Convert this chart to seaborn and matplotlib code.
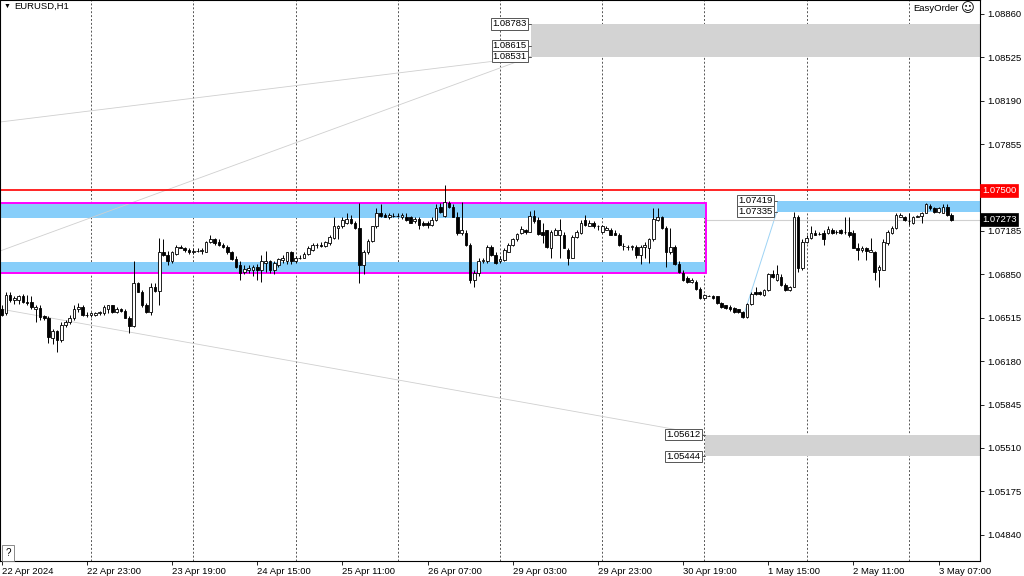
import matplotlib
matplotlib.use("Agg")
import matplotlib.pyplot as plt
import seaborn as sns
import numpy as np
from matplotlib.patches import Rectangle

# EURUSD H1, 22 Apr 2024 03:00 .. 3 May 2024 10:00 (one value per bar)
opens = [
    1.0658, 1.0655, 1.0669, 1.0665, 1.0665, 1.0668, 1.0664, 1.0664, 1.0658, 1.0659, 1.0653, 1.0651,
    1.0636, 1.0641, 1.0634, 1.0646, 1.0648, 1.0651, 1.0658, 1.0660, 1.0654, 1.0654, 1.0654, 1.0655,
    1.0655, 1.0658, 1.0661, 1.0656, 1.0658, 1.0657, 1.0651, 1.0645, 1.0678, 1.0671, 1.0661, 1.0656,
    1.0675, 1.0672, 1.0702, 1.0700, 1.0695, 1.0701, 1.0706, 1.0705, 1.0704, 1.0702, 1.0703, 1.0703,
    1.0702, 1.0710, 1.0712, 1.0710, 1.0708, 1.0706, 1.0702, 1.0697, 1.0692, 1.0687, 1.0688, 1.0688,
    1.0691, 1.0688, 1.0694, 1.0695, 1.0688, 1.0692, 1.0696, 1.0695, 1.0702, 1.0695, 1.0698, 1.0698,
    1.0701, 1.0704, 1.0708, 1.0708, 1.0707, 1.0709, 1.0713, 1.0721, 1.0722, 1.0725, 1.0728, 1.0725,
    1.0721, 1.0692, 1.0702, 1.0711, 1.0722, 1.0732, 1.0731, 1.0729, 1.0730, 1.0730, 1.0729, 1.0729,
    1.0729, 1.0726, 1.0728, 1.0725, 1.0725, 1.0723, 1.0727, 1.0737, 1.0730, 1.0740, 1.0737, 1.0729,
    1.0717, 1.0717, 1.0708, 1.0681, 1.0686, 1.0695, 1.0695, 1.0706, 1.0700, 1.0695, 1.0696, 1.0702,
    1.0708, 1.0712, 1.0717, 1.0719, 1.0718, 1.0730, 1.0727, 1.0718, 1.0719, 1.0705, 1.0715, 1.0715,
    1.0715, 1.0704, 1.0698, 1.0714, 1.0717, 1.0727, 1.0722, 1.0725, 1.0722, 1.0718, 1.0719, 1.0719,
    1.0717, 1.0715, 1.0707, 1.0706, 1.0706, 1.0706, 1.0700, 1.0706, 1.0705, 1.0712, 1.0727, 1.0729,
    1.0721, 1.0702, 1.0706, 1.0693, 1.0686, 1.0682, 1.0679, 1.0679, 1.0674, 1.0667, 1.0668, 1.0668,
    1.0668, 1.0663, 1.0661, 1.0660, 1.0659, 1.0658, 1.0656, 1.0652, 1.0662, 1.0671, 1.0671, 1.0669,
    1.0673, 1.0685, 1.0681, 1.0683, 1.0677, 1.0673, 1.0675, 1.0729, 1.0690, 1.0710, 1.0713, 1.0717,
    1.0716, 1.0717, 1.0717, 1.0719, 1.0718, 1.0719, 1.0718, 1.0718, 1.0717, 1.0705, 1.0704, 1.0705,
    1.0702, 1.0702, 1.0688, 1.0688, 1.0709, 1.0717, 1.0721, 1.0729, 1.0729, 1.0726, 1.0725, 1.0729,
    1.0730, 1.0732, 1.0738, 1.0736, 1.0733, 1.0732, 1.0737, 1.0731,
]
highs = [
    1.0661, 1.0671, 1.0671, 1.0668, 1.0669, 1.0670, 1.0669, 1.0668, 1.0661, 1.0661, 1.0654, 1.0653,
    1.0643, 1.0642, 1.0648, 1.0650, 1.0654, 1.0661, 1.0663, 1.0661, 1.0656, 1.0656, 1.0656, 1.0657,
    1.0661, 1.0661, 1.0661, 1.0660, 1.0659, 1.0658, 1.0653, 1.0695, 1.0679, 1.0673, 1.0663, 1.0678,
    1.0678, 1.0713, 1.0712, 1.0703, 1.0703, 1.0708, 1.0708, 1.0706, 1.0705, 1.0705, 1.0705, 1.0705,
    1.0711, 1.0715, 1.0713, 1.0712, 1.0709, 1.0708, 1.0703, 1.0699, 1.0695, 1.0692, 1.0692, 1.0692,
    1.0693, 1.0700, 1.0703, 1.0696, 1.0695, 1.0698, 1.0700, 1.0702, 1.0703, 1.0699, 1.0700, 1.0702,
    1.0707, 1.0709, 1.0709, 1.0710, 1.0711, 1.0715, 1.0729, 1.0723, 1.0729, 1.0732, 1.0731, 1.0726,
    1.0740, 1.0704, 1.0712, 1.0722, 1.0736, 1.0739, 1.0732, 1.0732, 1.0732, 1.0732, 1.0732, 1.0732,
    1.0730, 1.0729, 1.0729, 1.0726, 1.0726, 1.0729, 1.0739, 1.0740, 1.0754, 1.0742, 1.0739, 1.0733,
    1.0741, 1.0719, 1.0709, 1.0688, 1.0698, 1.0698, 1.0708, 1.0708, 1.0702, 1.0699, 1.0705, 1.0709,
    1.0713, 1.0717, 1.0722, 1.0720, 1.0734, 1.0735, 1.0729, 1.0725, 1.0719, 1.0719, 1.0721, 1.0728,
    1.0718, 1.0705, 1.0715, 1.0719, 1.0727, 1.0731, 1.0727, 1.0726, 1.0723, 1.0723, 1.0722, 1.0721,
    1.0719, 1.0717, 1.0709, 1.0708, 1.0708, 1.0708, 1.0708, 1.0710, 1.0713, 1.0736, 1.0736, 1.0730,
    1.0722, 1.0721, 1.0708, 1.0695, 1.0688, 1.0684, 1.0682, 1.0681, 1.0675, 1.0670, 1.0669, 1.0669,
    1.0668, 1.0664, 1.0661, 1.0661, 1.0660, 1.0658, 1.0657, 1.0663, 1.0671, 1.0675, 1.0672, 1.0674,
    1.0686, 1.0688, 1.0692, 1.0685, 1.0678, 1.0676, 1.0733, 1.0731, 1.0712, 1.0715, 1.0722, 1.0719,
    1.0718, 1.0719, 1.0722, 1.0721, 1.0719, 1.0720, 1.0729, 1.0729, 1.0719, 1.0709, 1.0707, 1.0706,
    1.0713, 1.0703, 1.0692, 1.0712, 1.0719, 1.0722, 1.0732, 1.0732, 1.0730, 1.0732, 1.0730, 1.0731,
    1.0733, 1.0740, 1.0739, 1.0737, 1.0737, 1.0739, 1.0739, 1.0732,
]
lows = [
    1.0653, 1.0654, 1.0664, 1.0662, 1.0662, 1.0663, 1.0661, 1.0658, 1.0648, 1.0650, 1.0650, 1.0632,
    1.0631, 1.0625, 1.0633, 1.0644, 1.0647, 1.0650, 1.0656, 1.0653, 1.0652, 1.0652, 1.0653, 1.0654,
    1.0654, 1.0655, 1.0655, 1.0655, 1.0656, 1.0651, 1.0640, 1.0644, 1.0671, 1.0660, 1.0655, 1.0654,
    1.0671, 1.0661, 1.0699, 1.0692, 1.0694, 1.0700, 1.0705, 1.0702, 1.0701, 1.0701, 1.0702, 1.0701,
    1.0702, 1.0709, 1.0708, 1.0707, 1.0705, 1.0701, 1.0696, 1.0690, 1.0681, 1.0685, 1.0686, 1.0684,
    1.0681, 1.0679, 1.0687, 1.0686, 1.0685, 1.0691, 1.0694, 1.0693, 1.0693, 1.0694, 1.0697, 1.0698,
    1.0700, 1.0703, 1.0705, 1.0706, 1.0706, 1.0708, 1.0712, 1.0712, 1.0721, 1.0724, 1.0724, 1.0720,
    1.0678, 1.0685, 1.0701, 1.0710, 1.0721, 1.0729, 1.0729, 1.0728, 1.0729, 1.0729, 1.0728, 1.0726,
    1.0725, 1.0725, 1.0720, 1.0722, 1.0721, 1.0722, 1.0726, 1.0732, 1.0729, 1.0736, 1.0729, 1.0715,
    1.0715, 1.0707, 1.0678, 1.0675, 1.0684, 1.0694, 1.0694, 1.0699, 1.0693, 1.0694, 1.0695, 1.0702,
    1.0707, 1.0711, 1.0716, 1.0716, 1.0718, 1.0725, 1.0715, 1.0709, 1.0705, 1.0698, 1.0715, 1.0698,
    1.0705, 1.0692, 1.0698, 1.0713, 1.0716, 1.0722, 1.0722, 1.0721, 1.0719, 1.0717, 1.0719, 1.0715,
    1.0715, 1.0707, 1.0704, 1.0704, 1.0704, 1.0698, 1.0693, 1.0698, 1.0694, 1.0711, 1.0726, 1.0720,
    1.0691, 1.0701, 1.0692, 1.0686, 1.0680, 1.0678, 1.0678, 1.0673, 1.0666, 1.0666, 1.0668, 1.0666,
    1.0662, 1.0659, 1.0658, 1.0657, 1.0655, 1.0655, 1.0651, 1.0651, 1.0661, 1.0669, 1.0669, 1.0668,
    1.0672, 1.0682, 1.0680, 1.0676, 1.0672, 1.0672, 1.0675, 1.0687, 1.0688, 1.0709, 1.0712, 1.0715,
    1.0715, 1.0708, 1.0716, 1.0716, 1.0716, 1.0716, 1.0716, 1.0714, 1.0705, 1.0696, 1.0702, 1.0696,
    1.0702, 1.0681, 1.0675, 1.0688, 1.0708, 1.0716, 1.0720, 1.0729, 1.0726, 1.0723, 1.0724, 1.0729,
    1.0725, 1.0732, 1.0735, 1.0732, 1.0732, 1.0732, 1.0730, 1.0726,
]
closes = [
    1.0654, 1.0669, 1.0665, 1.0667, 1.0668, 1.0664, 1.0663, 1.0660, 1.0660, 1.0652, 1.0651, 1.0637,
    1.0641, 1.0634, 1.0646, 1.0648, 1.0651, 1.0658, 1.0660, 1.0654, 1.0654, 1.0655, 1.0655, 1.0656,
    1.0660, 1.0661, 1.0656, 1.0658, 1.0657, 1.0651, 1.0645, 1.0678, 1.0671, 1.0661, 1.0656, 1.0675,
    1.0672, 1.0702, 1.0700, 1.0695, 1.0702, 1.0706, 1.0705, 1.0704, 1.0702, 1.0703, 1.0703, 1.0704,
    1.0710, 1.0712, 1.0709, 1.0708, 1.0706, 1.0702, 1.0697, 1.0691, 1.0686, 1.0689, 1.0690, 1.0691,
    1.0688, 1.0695, 1.0695, 1.0688, 1.0694, 1.0697, 1.0698, 1.0702, 1.0695, 1.0698, 1.0698, 1.0701,
    1.0705, 1.0708, 1.0708, 1.0707, 1.0710, 1.0714, 1.0722, 1.0722, 1.0727, 1.0728, 1.0725, 1.0721,
    1.0692, 1.0702, 1.0711, 1.0722, 1.0732, 1.0730, 1.0729, 1.0731, 1.0730, 1.0730, 1.0731, 1.0727,
    1.0725, 1.0728, 1.0723, 1.0723, 1.0723, 1.0727, 1.0736, 1.0733, 1.0741, 1.0737, 1.0729, 1.0717,
    1.0719, 1.0708, 1.0681, 1.0686, 1.0695, 1.0696, 1.0706, 1.0700, 1.0694, 1.0697, 1.0704, 1.0708,
    1.0712, 1.0716, 1.0720, 1.0718, 1.0730, 1.0726, 1.0716, 1.0715, 1.0706, 1.0718, 1.0719, 1.0719,
    1.0705, 1.0698, 1.0714, 1.0718, 1.0725, 1.0723, 1.0725, 1.0722, 1.0722, 1.0722, 1.0721, 1.0715,
    1.0715, 1.0708, 1.0707, 1.0706, 1.0707, 1.0700, 1.0706, 1.0708, 1.0712, 1.0728, 1.0729, 1.0721,
    1.0702, 1.0706, 1.0693, 1.0687, 1.0681, 1.0679, 1.0681, 1.0674, 1.0667, 1.0669, 1.0668, 1.0667,
    1.0663, 1.0660, 1.0659, 1.0658, 1.0656, 1.0656, 1.0652, 1.0662, 1.0670, 1.0670, 1.0670, 1.0673,
    1.0685, 1.0683, 1.0685, 1.0677, 1.0673, 1.0675, 1.0729, 1.0690, 1.0710, 1.0713, 1.0717, 1.0715,
    1.0716, 1.0712, 1.0720, 1.0717, 1.0718, 1.0717, 1.0718, 1.0715, 1.0705, 1.0704, 1.0705, 1.0703,
    1.0704, 1.0687, 1.0691, 1.0710, 1.0718, 1.0721, 1.0731, 1.0731, 1.0727, 1.0726, 1.0729, 1.0730,
    1.0732, 1.0739, 1.0736, 1.0733, 1.0736, 1.0737, 1.0731, 1.07273,
]

time_labels = ["22 Apr 2024", "22 Apr 23:00", "23 Apr 19:00", "24 Apr 15:00", "25 Apr 11:00",
               "26 Apr 07:00", "29 Apr 03:00", "29 Apr 23:00", "30 Apr 19:00", "1 May 15:00",
               "2 May 11:00", "3 May 07:00"]
time_label_bars = [0, 20, 40, 60, 80, 100, 120, 140, 160, 180, 200, 220]
day_start_bars = [21, 45, 69, 93, 117, 141, 165, 189, 213]
price_ticks = [1.04840, 1.05175, 1.05510, 1.05845, 1.06180, 1.06515, 1.06850,
               1.07185, 1.07520, 1.07855, 1.08190, 1.08525, 1.08860]

red_level = 1.07500
bid_price = 1.07273

# zones: start bar, low price, high price
upper_zone = (124.3, 1.08531, 1.08783)
upper_mid = 1.08615
lower_zone = (165.1, 1.05444, 1.05612)
blue_zone = (182.0, 1.07335, 1.07419)
# consolidation box (end bar, bands)
box_end = 165.3
box_top_band = (1.07285, 1.07400)
box_bottom_band = (1.06858, 1.06945)
# thin trend lines: (bar0, price0, bar1, price1)
trend_lines = [(-0.4, 1.08026, 124.3, 1.08531),
               (-0.4, 1.07030, 124.3, 1.08531),
               (-0.4, 1.06583, 165.1, 1.05612)]
blue_line = (174, 1.0651, 182.0, 1.07335)

XMIN, XMAX = -0.38, 229.7
YMIN, YMAX = 1.04637, 1.08968


def draw_candles(ax):
    o = np.array(opens)
    h = np.array(highs)
    l = np.array(lows)
    c = np.array(closes)
    x = np.arange(len(c))
    up = c >= o
    ax.vlines(x, l, h, color='black', lw=0.7, zorder=3)
    ax.bar(x, np.abs(c - o), bottom=np.minimum(o, c), width=0.62,
           color=np.where(up, 'white', 'black'), edgecolor='black', linewidth=0.6, zorder=4)


def price_box(ax, x, y, txt):
    ax.text(x, y, txt, ha='right', va='center', fontsize=6.8, color='black', zorder=6,
            bbox=dict(boxstyle='square,pad=0.12', fc='white', ec='#555555', lw=0.7))


sns.set_theme(style="white")
plt.rcParams['font.family'] = ['Liberation Sans', 'DejaVu Sans']

fig = plt.figure(figsize=(10.24, 5.76), dpi=100)
ax = fig.add_axes([0, 15 / 576, 980 / 1024, 561 / 576])
ax.set_facecolor('white')

# day separators
for b in day_start_bars:
    ax.axvline(b, color='#555555', lw=0.7, ls=(0, (2, 2)), zorder=0.5)

# consolidation box
x0 = XMIN - 5
ax.fill_between([x0, box_end], *box_top_band, color='#87CEFA', lw=0, zorder=1)
ax.fill_between([x0, box_end], *box_bottom_band, color='#87CEFA', lw=0, zorder=1)
ax.add_patch(Rectangle((x0, box_bottom_band[0]), box_end - x0, box_top_band[1] - box_bottom_band[0],
                       fill=False, ec='#FF00FF', lw=1.4, zorder=2))

# grey zones and blue zone to the right edge
for zone, col in [(upper_zone, '#D3D3D3'), (lower_zone, '#D3D3D3'), (blue_zone, '#87CEFA')]:
    ax.fill_between([zone[0], XMAX + 5], zone[1], zone[2], color=col, lw=0, zorder=1)

for x_a, p_a, x_b, p_b in trend_lines:
    ax.plot([x_a, x_b], [p_a, p_b], color='#CFCFCF', lw=0.6, zorder=1.5)
ax.plot([blue_line[0], blue_line[2]], [blue_line[1], blue_line[3]], color='#9DD3F5', lw=0.7, zorder=1.5)

# levels
ax.axhline(red_level, color='#FF0000', lw=1.2, zorder=2)
ax.plot([165, XMAX + 5], [bid_price, bid_price], color='#D0D0D0', lw=0.8, zorder=1.5)

draw_candles(ax)

# labels of the zones
for zone in [upper_zone, lower_zone, blue_zone]:
    xs = zone[0] - 1.0
    for p in zone[1:]:
        ax.plot([xs, zone[0]], [p, p], color='#555555', lw=0.7, zorder=5)
        price_box(ax, xs, p, f"{p:.5f}")
ax.plot([upper_zone[0] - 1.0, upper_zone[0]], [upper_mid, upper_mid], color='#555555', lw=0.7, zorder=5)
price_box(ax, upper_zone[0] - 1.0, upper_mid, f"{upper_mid:.5f}")

ax.set_xlim(XMIN, XMAX)
ax.set_ylim(YMIN, YMAX)

# the scale label hidden under the red tag is left empty
ax.yaxis.tick_right()
ax.set_yticks(price_ticks)
ax.set_yticklabels(["" if abs(p - red_level) < 0.0005 else f"{p:.5f}" for p in price_ticks])
ax.tick_params(axis='y', length=3, width=0.6, pad=2, labelsize=6.8, colors='black', right=True, left=False)
ax.set_xticks(time_label_bars)
ax.set_xticklabels(time_labels)
ax.tick_params(axis='x', length=3, width=0.6, pad=1, labelsize=6.8, colors='black', bottom=True)
for lbl in ax.get_xticklabels():
    lbl.set_ha('left')

for sp in ax.spines.values():
    sp.set_color('black')
    sp.set_linewidth(0.8)

# price tags on the axis
tr = ax.get_yaxis_transform()
ax.text(1.002, red_level, f"{red_level:.5f}", transform=tr, ha='left', va='center', fontsize=6.8,
        color='white', clip_on=False, zorder=10,
        bbox=dict(boxstyle='square,pad=0.2', fc='#FF0000', ec='#FF0000', lw=0.5))
ax.text(1.002, bid_price, f"{bid_price:.5f}", transform=tr, ha='left', va='center', fontsize=6.8,
        color='white', clip_on=False, zorder=10,
        bbox=dict(boxstyle='square,pad=0.2', fc='black', ec='black', lw=0.5))

ax.text(0.004, 0.988, "\u25BC", transform=ax.transAxes, fontsize=5, va='center', ha='left', color='black')
ax.text(0.015, 0.988, "EURUSD,H1", transform=ax.transAxes, fontsize=6.8, va='center', ha='left', color='black')
ax.text(0.978, 0.985, "EasyOrder", transform=ax.transAxes, fontsize=6.8, va='center', ha='right', color='black')
ax.text(0.995, 0.985, "\u263A", transform=ax.transAxes, fontsize=9.5, va='center', ha='right',
        color='black', family='DejaVu Sans')
ax.text(0.008, 0.014, "?", transform=ax.transAxes, fontsize=7, va='center', ha='center', color='black',
        bbox=dict(boxstyle='square,pad=0.3', fc='white', ec='#777777', lw=0.6))

fig.savefig("out.png", dpi=100, facecolor='white')
